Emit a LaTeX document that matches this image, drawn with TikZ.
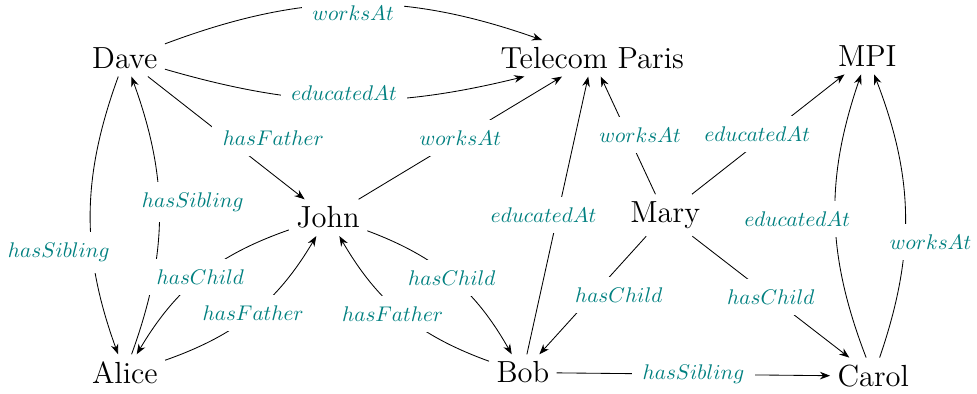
\documentclass[tikz,border=0pt]{standalone}
\usepackage{amssymb}
\usepackage{amsmath}
\usetikzlibrary{arrows.meta}

\tikzset{
  entity/.style={font=\Large, anchor=base},
  rel/.style={fill=white, text=teal, inner sep=5pt},
}

\begin{document}
\begin{tikzpicture}[->,>=Stealth]
\useasboundingbox (0,0) rectangle (16.2,6.53);

\node[entity] (dave) at (2.07,5.39) {Dave};
\node[entity] (telecom) at (9.82,5.39) {Telecom Paris};
\node[entity] (mpi) at (14.38,5.42) {MPI};
\node[entity] (john) at (5.44,2.75) {John};
\node[entity] (mary) at (11.03,2.84) {Mary};
\node[entity] (alice) at (2.07,0.17) {Alice};
\node[entity] (bob) at (8.67,0.18) {Bob};
\node[entity] (carol) at (14.48,0.12) {Carol};

%Dave
\draw (dave) to[bend left=20] node[rel,yshift=-0.15cm] {$worksAt$} (telecom);
\draw (dave) to[bend right=15] node[rel,yshift=0.12cm] {$educatedAt$} (telecom);
\draw (dave) -- node[rel,xshift=0.78cm] {$hasFather$} (john);
\draw (dave) to[bend right=20] node[rel,pos=0.64,xshift=-0.56cm] {$hasSibling$} (alice);
\draw (alice) to[bend right=20] node[rel,pos=0.55,xshift=0.56cm] {$hasSibling$} (dave);

%John
\draw (john) -- node[rel] {$worksAt$} (telecom);
\draw (john) to[bend right=20] node[rel] {$hasChild$} (alice);
\draw (alice) to[bend right=20] node[rel] {$hasFather$} (john);
\draw (bob) to[bend left=20] node[rel,xshift=-0.15cm] {$hasFather$} (john);
\draw (john) to[bend left=20] node[rel] {$hasChild$} (bob);

%Mary
\draw (bob) -- node[rel,xshift=-0.23cm] {$educatedAt$} (telecom);
\draw (mary) -- node[rel,xshift=0.2cm] {$worksAt$} (telecom);
\draw (mary) -- node[rel,xshift=-0.18cm] {$educatedAt$} (mpi);
\draw (mary) -- node[rel,xshift=0.43cm] {$hasChild$} (bob);
\draw (mary) -- node[rel] {$hasChild$} (carol);

%Carol
\draw (carol) to[bend left=20] node[rel,pos=0.49,xshift=-0.63cm] {$educatedAt$} (mpi);
\draw (carol) to[bend right=20] node[rel,pos=0.4,xshift=0.43cm] {$worksAt$} (mpi);
\draw (bob) -- node[rel] {$hasSibling$} (carol);
\end{tikzpicture}
\end{document}
